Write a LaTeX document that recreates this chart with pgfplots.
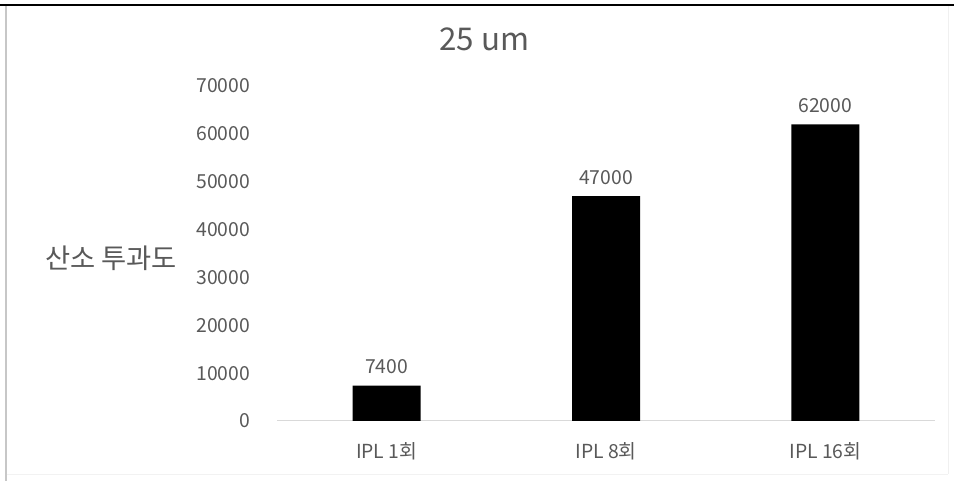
\documentclass[border=0pt]{standalone}
\usepackage{pgfplots}
\pgfplotsset{compat=1.18}
\usepackage{fontspec}
\setmainfont{Noto Sans CJK KR}
\definecolor{txt}{HTML}{595959}
\definecolor{axl}{HTML}{D9D9D9}
\begin{document}
\begin{tikzpicture}
\path[use as bounding box] (0,0) rectangle (715.5pt,360.75pt);
\fill[white] (0,0) rectangle (715.5pt,360.75pt);
\draw[black, line width=1.5pt] (0,357pt) -- (715.5pt,357pt);
\draw[black!22, line width=1pt] (4.5pt,356pt) -- (4.5pt,0);
\draw[black!6, line width=0.75pt] (711pt,356pt) -- (711pt,5pt);
\draw[black!5, line width=0.75pt] (5pt,5pt) -- (711pt,5pt);
\begin{axis}[
  at={(207.75pt,45pt)}, anchor=south west,
  scale only axis, width=493.5pt, height=251.25pt,
  xmin=-0.5, xmax=2.5, ymin=0, ymax=70000,
  axis lines=left, axis line style={-},
  y axis line style={draw=none},
  x axis line style={draw=axl, line width=0.75pt},
  major tick length=0pt,
  xtick={0,1,2}, xticklabels={IPL 1회, IPL 8회, IPL 16회},
  ytick={0,10000,...,70000},
  /pgf/number format/assume math mode=true,
  /pgf/number format/1000 sep={},
  scaled y ticks=false,
  tick label style={font=\fontsize{14.5}{16}\selectfont, text=txt},
  yticklabel style={anchor=east, inner sep=0pt, xshift=-20pt},
  xticklabel style={anchor=center, inner sep=0pt, yshift=-23pt},
  title={25 um},
  title style={at={(rel axis cs:0.315,1)}, anchor=center, yshift=29pt, font=\fontsize{23.5}{26}\selectfont, text=txt},
  ylabel={산소 투과도},
  every axis y label/.style={at={(rel axis cs:0,0.487)}, anchor=center, xshift=-124.5pt, font=\fontsize{20.5}{24}\selectfont, text=txt},
  clip=false,
]
\addplot[ybar, bar width=51pt, bar shift=0pt, fill=black, draw=none,
  nodes near coords,
  nodes near coords style={anchor=center, yshift=14pt, font=\fontsize{14.5}{16}\selectfont, text=txt, /pgf/number format/1000 sep={}, /pgf/number format/assume math mode=true}]
  coordinates {(0,7400) (1,47000) (2,62000)};
\end{axis}
\end{tikzpicture}
\end{document}
